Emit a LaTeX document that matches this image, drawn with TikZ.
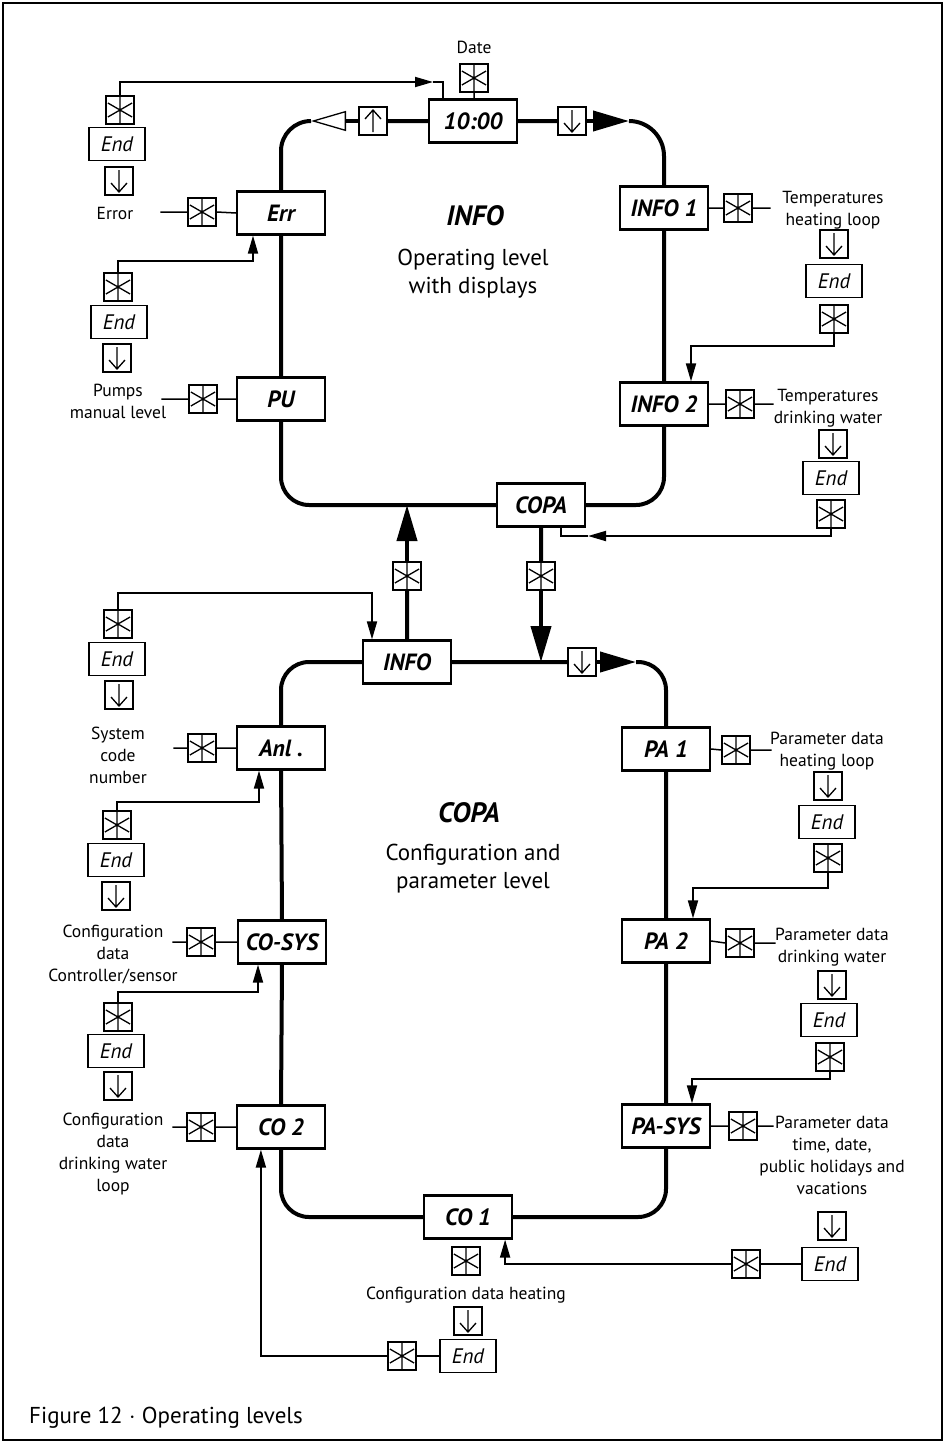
\documentclass[tikz,border=0pt]{standalone}
\usepackage{fontspec}
\setmainfont{PT Sans}
\usetikzlibrary{arrows.meta}

\tikzset{
    mainbox/.style={draw, line width=2.2pt, fill=white, minimum width=88pt, minimum height=43pt,
        inner sep=0pt, font=\fontsize{23.5}{27}\selectfont\bfseries\itshape},
    endbox/.style={draw, line width=1.4pt, fill=white, minimum width=56pt, minimum height=33pt,
        inner sep=0pt, font=\fontsize{21}{25}\selectfont\itshape},
    starbox/.style={draw, line width=1.4pt, fill=white, minimum size=28pt, inner sep=0pt,
        path picture={\draw[line width=1.3pt]
            (path picture bounding box.north) -- (path picture bounding box.south)
            (path picture bounding box.center) ++(30:14pt) -- ++(210:28pt)
            (path picture bounding box.center) ++(150:14pt) -- ++(330:28pt);}},
    downbox/.style={draw, line width=1.4pt, fill=white, minimum size=28pt, inner sep=0pt,
        path picture={\draw[line width=1.3pt]
            ([yshift=-3pt]path picture bounding box.north) -- ([yshift=3pt]path picture bounding box.south)
            ++(-8pt,9pt) -- ++(8pt,-9pt) -- ++(8pt,9pt);}},
    upbox/.style={draw, line width=1.4pt, fill=white, minimum size=28pt, inner sep=0pt,
        path picture={\draw[line width=1.3pt]
            ([yshift=3pt]path picture bounding box.south) -- ([yshift=-3pt]path picture bounding box.north)
            ++(-8pt,-9pt) -- ++(8pt,9pt) -- ++(8pt,-9pt);}},
    note/.style={align=center, inner sep=0pt, font=\fontsize{17.5}{22}\selectfont},
    levelname/.style={inner sep=0pt, font=\fontsize{28}{32}\selectfont\bfseries\itshape},
    leveltext/.style={align=center, inner sep=0pt, font=\fontsize{23}{28}\selectfont},
    loopline/.style={line width=4pt},
    feedline/.style={line width=1.8pt},
    linkline/.style={line width=1.5pt},
    smalltip/.tip={Triangle[length=18pt,width=10pt]},
    bigtip/.tip={Triangle[length=36pt,width=20pt]},
    opentip/.tip={Triangle[open,length=35pt,width=20pt,line width=1.3pt]},
}

\begin{document}
\begin{tikzpicture}[x=1pt, y=-1pt]
    \useasboundingbox (0,0) rectangle (945,1443);
    \draw[line width=1.2pt] (3,3) rectangle (942,1440);

    \node[mainbox] (time) at (473,121) {10:00};
    \node[starbox] (dates) at (474,78) {};
    \node[note] (datet) at (474,47) {Date};
    \node[upbox] (tup) at (373,121) {};
    \node[downbox] (tdown) at (572,121) {};

    \node[starbox] (errs1) at (120,110) {};
    \node[endbox] (erre) at (117,144) {End};
    \node[downbox] (errd) at (119,181) {};
    \node[note] (errt) at (115,213) {Error};
    \node[starbox] (errs) at (202,212) {};
    \node[mainbox] (err) at (281,213) {Err};

    \node[starbox] (pus1) at (118,287) {};
    \node[endbox] (pue) at (119,322) {End};
    \node[downbox] (pud) at (117,358) {};
    \node[note] (put) at (118,401) {Pumps\\manual level};
    \node[starbox] (pus) at (203,399) {};
    \node[mainbox] (pu) at (281,399) {PU};

    \node[mainbox] (info1) at (664,208) {INFO 1};
    \node[starbox] (i1s) at (738,208) {};
    \node[note] (i1t) at (833,210) {Temperatures\\heating loop};
    \node[downbox] (i1d) at (834,244) {};
    \node[endbox] (i1e) at (834,281) {End};
    \node[starbox] (i1s2) at (834,319) {};

    \node[mainbox] (info2) at (664,404) {INFO 2};
    \node[starbox] (i2s) at (740,404) {};
    \node[note] (i2t) at (828,408) {Temperatures\\drinking water};
    \node[downbox] (i2d) at (833,444) {};
    \node[endbox] (i2e) at (831,478) {End};
    \node[starbox] (i2s2) at (831,514) {};

    \node[mainbox] (copa) at (541,505) {COPA};
    \node[starbox] (ups) at (407,576) {};
    \node[starbox] (dns) at (541,576) {};
    \node[mainbox] (info) at (407,662) {INFO};
    \node[downbox] (ldown) at (582,662) {};

    \node[levelname] (infot) at (475,216) {INFO};
    \node[leveltext] (infod) at (473,274) {Operating level\\with displays};
    \node[levelname] (copat) at (469,813) {COPA};
    \node[leveltext] (copad) at (473,869) {Configuration and\\parameter level};

    \node[starbox] (ins) at (118,624) {};
    \node[endbox] (ine) at (117,659) {End};
    \node[downbox] (ind) at (119,695) {};
    \node[note] (anlt) at (118,755) {System\\code\\number};
    \node[starbox] (anls) at (202,748) {};
    \node[mainbox] (anl) at (281,748) {Anl .};

    \node[starbox] (css1) at (117,825) {};
    \node[endbox] (cse) at (116,860) {End};
    \node[downbox] (csd) at (116,896) {};
    \node[note] (cst) at (113,954) {Configuration\\data\\Controller/sensor};
    \node[starbox] (css) at (201,942) {};
    \node[mainbox] (cosys) at (282,942) {CO-SYS};

    \node[starbox] (c2s1) at (118,1017) {};
    \node[endbox] (c2e) at (116,1051) {End};
    \node[downbox] (c2d) at (118,1086) {};
    \node[note] (c2t) at (113,1154) {Configuration\\data\\drinking water\\loop};
    \node[starbox] (c2s) at (201,1127) {};
    \node[mainbox] (co2) at (281,1127) {CO 2};

    \node[mainbox] (pa1) at (666,749) {PA 1};
    \node[starbox] (p1s) at (736,750) {};
    \node[note] (p1t) at (827,751) {Parameter data\\heating loop};
    \node[downbox] (p1d) at (828,786) {};
    \node[endbox] (p1e) at (827,822) {End};
    \node[starbox] (p1s2) at (828,858) {};

    \node[mainbox] (pa2) at (666,941) {PA 2};
    \node[starbox] (p2s) at (740,943) {};
    \node[note] (p2t) at (832,947) {Parameter data\\drinking water};
    \node[downbox] (p2d) at (832,985) {};
    \node[endbox] (p2e) at (829,1020) {End};
    \node[starbox] (p2s2) at (830,1057) {};

    \node[mainbox] (pasys) at (666,1126) {PA-SYS};
    \node[starbox] (pss) at (743,1126) {};
    \node[note] (pst) at (832,1155) {Parameter data\\time, date,\\public holidays and\\vacations};
    \node[downbox] (psd) at (832,1226) {};
    \node[endbox] (pse) at (830,1264) {End};
    \node[starbox] (pss2) at (746,1264) {};

    \node[mainbox] (co1) at (468,1217) {CO 1};
    \node[starbox] (c1s) at (466,1261) {};
    \node[note] (c1t) at (466,1295) {Configuration data heating};
    \node[downbox] (c1d) at (468,1321) {};
    \node[endbox] (c1e) at (468,1356) {End};
    \node[starbox] (c1s2) at (402,1356) {};

    \node[anchor=west, inner sep=0pt, font=\fontsize{23}{27}\selectfont] (cap) at (29,1418)
      {Figure 12 $\cdot$ Operating levels};

    \coordinate (tl) at (311,121);
    \coordinate (tr) at (629,121);
    \coordinate (lr) at (636,662);

    \draw[loopline]
      (time.west) -- (tup.east)
      (time.east) -- (tdown.west)
      (err.south) -- (pu.north)
      (info1.south) -- (info2.north)
      (info.north) -- (ups.south)
      (copa.south) -- (dns.north)
      (info.east) -- (ldown.west)
      (anl.south) -- (cosys.north)
      (cosys.south) -- (co2.north)
      (pa1.south) -- (pa2.north)
      (pa2.south) -- (pasys.north)
    ;

    \draw[loopline, -opentip] 
      (tup.west) -- (tl)
    ;
    \draw[loopline, -bigtip] 
      (tdown.east) -- (tr)
    ;
    \draw[loopline, -bigtip] 
      (ldown.east) -- (lr)
    ;
    \draw[loopline, -bigtip] 
      (ups.north) -- (ups.north |- copa.west)
    ;
    \draw[loopline, -bigtip] 
      (dns.south) -- (dns.south |- info.east)
    ;

    \draw[loopline, rounded corners=30pt] 
      (tl) -| (err.north)
    ;
    \draw[loopline, rounded corners=35pt] 
      (tr) -| (info1.north)
    ;
    \draw[loopline, rounded corners=28pt]
      (pu.south) |- (copa.west)
      (copa.east) -| (info2.south)
      (info.west) -| (anl.north)
      (lr) -| (pa1.north)
      (co2.south) |- (co1.west)
      (co1.east) -| (pasys.south)
    ;

    \draw[linkline]
      (dates.south) -- (dates.south |- time.north)
      (errs.east) -- (err.west)
      (errs.west) -- ++(-27,0)
      (pus.east) -- (pu.west)
      (pus.west) -- ++(-27,0)
      (info1.east) -- (i1s.west)
      (i1s.east) -- ++(18,0)
      (info2.east) -- (i2s.west)
      (i2s.east) -- ++(19,0)
      (anls.east) -- (anl.west)
      (anls.west) -- ++(-14,0)
      (css.east) -- (cosys.west)
      (css.west) -- ++(-14,0)
      (c2s.east) -- (co2.west)
      (c2s.west) -- ++(-14,0)
      (pa1.east) -- (p1s.west)
      (p1s.east) -- ++(21,0)
      (pa2.east) -- (p2s.west)
      (p2s.east) -- ++(21,0)
      (pasys.east) -- (pss.west)
      (pss.east) -- ++(16,0)
    ;

    \coordinate (k1) at (433,82);
    \coordinate (k2) at (253,261);
    \coordinate (k3) at (691,346);
    \coordinate (k4) at (588,536);
    \coordinate (k5) at (372,593);
    \coordinate (k6) at (259,802);
    \coordinate (k7) at (258,992);
    \coordinate (k8) at (693,888);
    \coordinate (k9) at (692,1079);

    \draw[feedline, -smalltip]
      (errs1.north) |- (k1)
    ;
    \draw[feedline]
      (k1) -| ([xshift=15pt]time.north west)
    ;
    \draw[feedline, -smalltip]
      (pus1.north) |- (k2) -- (k2 |- err.south)
    ;
    \draw[feedline, -smalltip]
      (i1s2.south) |- (k3) -- (k3 |- info2.north)
    ;
    \draw[feedline, -smalltip]
      (i2s2.south) |- (k4)
    ;
    \draw[feedline]
      (k4) -| ([xshift=-25pt]copa.south east)
    ;
    \draw[feedline, -smalltip]
      (ins.north) |- (k5) -- (k5 |- info.north)
    ;
    \draw[feedline, -smalltip]
      (css1.north) |- (k6) -- (k6 |- anl.south)
    ;
    \draw[feedline, -smalltip]
      (c2s1.north) |- (k7) -- (k7 |- cosys.south)
    ;
    \draw[feedline, -smalltip]
      (p1s2.south) |- (k8) -- (k8 |- pa2.north)
    ;
    \draw[feedline, -smalltip]
      (p2s2.south) |- (k9) -- (k9 |- pasys.north)
    ;
    \draw[feedline]
      (pss2.east) -- (pse.west)
      (c1s2.east) -- (c1e.west)
    ;
    \draw[feedline, -smalltip]
      (pss2.west) -| ([xshift=-8pt]co1.south east)
    ;
    \draw[feedline, -smalltip]
      (c1s2.west) -| ([xshift=25pt]co2.south west)
    ;
\end{tikzpicture}
\end{document}
